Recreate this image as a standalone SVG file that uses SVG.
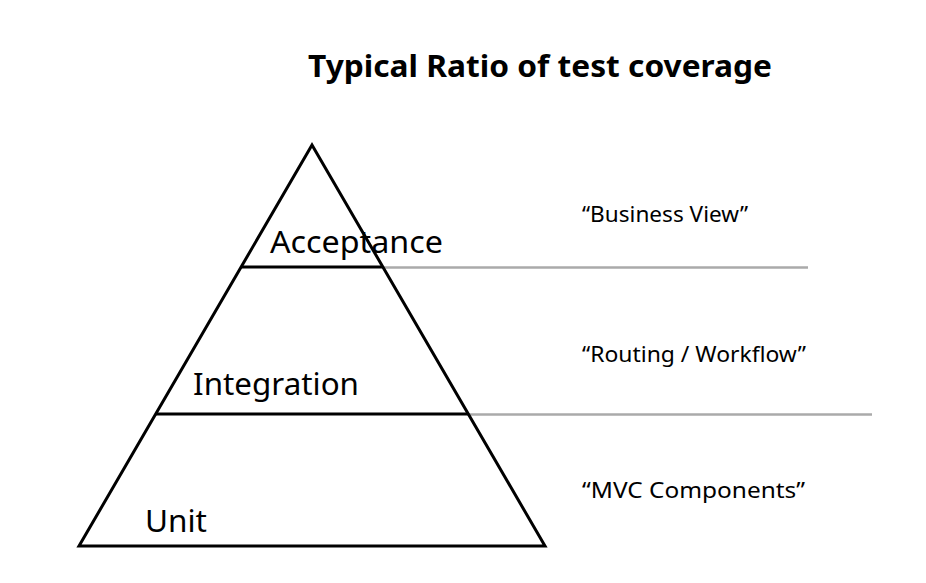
<svg xmlns="http://www.w3.org/2000/svg" width="926" height="583" viewBox="0 0 926 583">
  <style>
    .title { font-family: "Noto Sans", "Open Sans", sans-serif; font-weight: bold; font-size: 31px; fill: #000; }
    .tier { font-family: "Noto Sans", "Open Sans", sans-serif; font-size: 30px; fill: #000; }
    .note { font-family: "Noto Sans", "Open Sans", sans-serif; font-size: 21px; fill: #000; }
    .edge { stroke: #000; stroke-width: 3; fill: none; stroke-linejoin: miter; }
    .guide { stroke: #aaaaaa; stroke-width: 2.5; fill: none; }
  </style>
  <rect width="926" height="583" fill="#fff"/>

  <text class="title" x="308" y="77" textLength="464" lengthAdjust="spacingAndGlyphs">Typical Ratio of test coverage</text>

  <!-- divider lines extending to the right -->
  <g id="connectors">
    <line class="guide" x1="383" y1="267.5" x2="808" y2="267.5"/>
    <line class="guide" x1="468" y1="414.5" x2="872" y2="414.5"/>
  </g>

  <!-- pyramid outline -->
  <g id="pyramid">
    <polygon class="edge" points="312,145 545,546 79,546"/>
  </g>

  <g id="acceptance">
    <line class="edge" x1="241" y1="267" x2="383" y2="267"/>
    <text class="tier" x="270" y="253" textLength="173" lengthAdjust="spacingAndGlyphs">Acceptance</text>
    <text class="note" x="582" y="222" textLength="166" lengthAdjust="spacingAndGlyphs">“Business View”</text>
  </g>

  <g id="integration">
    <line class="edge" x1="156" y1="414" x2="468" y2="414"/>
    <text class="tier" x="193" y="395" textLength="166" lengthAdjust="spacingAndGlyphs">Integration</text>
    <text class="note" x="582" y="362" textLength="224" lengthAdjust="spacingAndGlyphs">“Routing / Workflow”</text>
  </g>

  <g id="unit">
    <text class="tier" x="145" y="532" textLength="62" lengthAdjust="spacingAndGlyphs">Unit</text>
    <text class="note" x="582" y="498" textLength="223" lengthAdjust="spacingAndGlyphs">“MVC Components”</text>
  </g>
</svg>
